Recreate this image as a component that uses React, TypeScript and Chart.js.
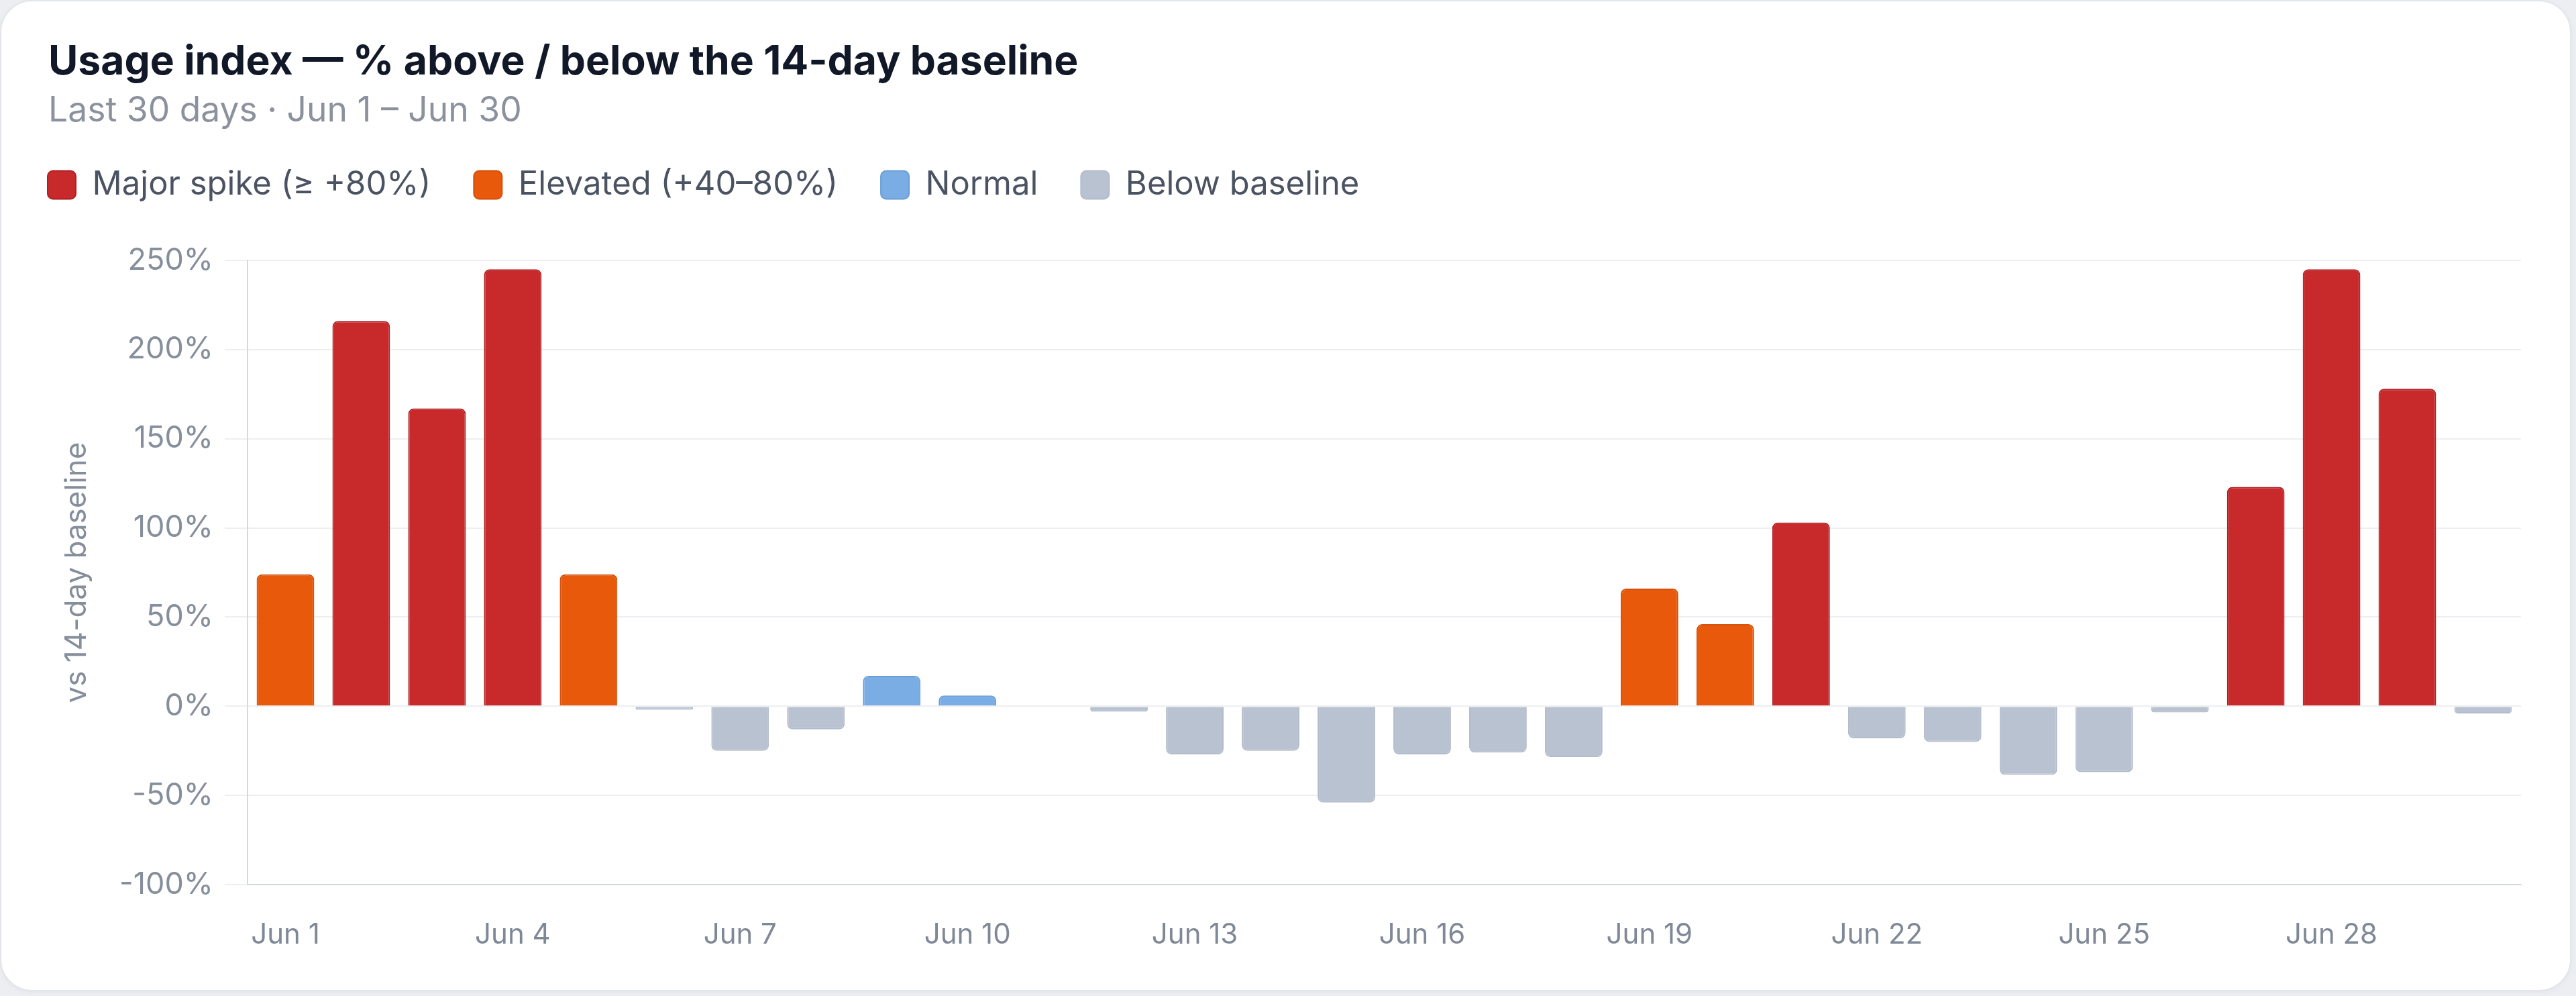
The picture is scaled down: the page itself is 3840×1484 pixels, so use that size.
import React, { useEffect, useRef } from "react";
import { Chart, registerables } from "chart.js";

Chart.register(...registerables);

// ---- data ----
const days: string[] = [
  "Jun 1", "Jun 2", "Jun 3", "Jun 4", "Jun 5", "Jun 6", "Jun 7", "Jun 8", "Jun 9", "Jun 10",
  "Jun 11", "Jun 12", "Jun 13", "Jun 14", "Jun 15", "Jun 16", "Jun 17", "Jun 18", "Jun 19", "Jun 20",
  "Jun 21", "Jun 22", "Jun 23", "Jun 24", "Jun 25", "Jun 26", "Jun 27", "Jun 28", "Jun 29", "Jun 30",
];
const pctVsBaseline: number[] = [
  74, 216, 167, 245, 74, -2, -25, -13, 17, 6,
  0, -3, -27, -25, -54, -27, -26, -28.5, 66, 46,
  103, -18, -20, -38.5, -37, -3.5, 123, 245, 178, -4,
];
const seriesNames: string[] = ["Major spike (≥ +80%)", "Elevated (+40–80%)", "Normal", "Below baseline"];
const seriesFill: string[] = ["#c8292b", "#e8590c", "#7aade3", "#b9c2d0"];
const seriesEdge: string[] = ["#ae1f22", "#d4500b", "#6a9ed6", "#b3bccb"];
const yTickValues: number[] = [-100, -50, 0, 50, 100, 150, 200, 250];
const xLabelEvery = 3;

const TITLE = "Usage index — % above / below the 14-day baseline";
const SUBTITLE = "Last 30 days · Jun 1 – Jun 30";
const Y_TITLE = "vs 14-day baseline";

const FONT = "Inter, 'Noto Sans', sans-serif";
const PAGE_BG = "#eceef1";

function bucket(v: number): number {
  if (v >= 80) return 0;
  if (v >= 40) return 1;
  if (v >= 0) return 2;
  return 3;
}

const CANVAS_W = 3829;
const CANVAS_H = 1473;
const LEGEND_PAD = 64;
const PAD_TOP = 185;
const AREA_TOP = 386;
const AREA_LEFT = 367;
const PAD_LEFT = 5;
const AREA_BOTTOM = 1316;

export default function App() {
  const ref = useRef<HTMLCanvasElement>(null);

  useEffect(() => {
    document.body.style.margin = "0";
    document.body.style.background = PAGE_BG;
    const canvas = ref.current;
    if (!canvas) return;

    const datasets = seriesNames.map((name, k) => ({
      label: name,
      data: pctVsBaseline.map((v) => (bucket(v) === k ? v : null)),
      backgroundColor: seriesFill[k],
      borderColor: seriesEdge[k],
      borderWidth: 2,
      borderRadius: 8,
      grouped: false,
      categoryPercentage: 0.8,
      barPercentage: 0.95,
    }));

    const legendSpacer = {
      id: "legendSpacer",
      beforeInit(chart: any) {
        const lg = chart.legend;
        if (!lg) return;
        const orig = lg.fit;
        lg.fit = function () {
          orig.call(lg);
          lg.height = AREA_TOP - PAD_TOP;
        };
      },
    };

    const chart = new Chart(canvas, {
      type: "bar",
      data: { labels: days, datasets: datasets as any },
      plugins: [legendSpacer],
      options: {
        responsive: false,
        animation: false,
        devicePixelRatio: 1,
        layout: { padding: { left: PAD_LEFT, top: PAD_TOP, right: 73, bottom: 0 } },
        plugins: {
          legend: {
            display: true,
            position: "top",
            align: "start",
            labels: {
              boxWidth: 42,
              boxHeight: 42,
              padding: LEGEND_PAD,
              color: "#4b5362",
              font: { family: FONT, size: 49 },
              useBorderRadius: true,
              borderRadius: 8,
            },
          },
          tooltip: { enabled: false },
        },
        scales: {
          x: {
            grid: { display: false, drawTicks: false },
            border: { display: true, color: "#d5d9df", width: 2 },
            ticks: {
              autoSkip: false,
              maxRotation: 0,
              minRotation: 0,
              padding: 50,
              color: "#7f8896",
              font: { family: FONT, size: 42 },
              callback: (_v: any, i: number) => (i % xLabelEvery === 0 ? days[i] : ""),
            },
            afterFit: (s: any) => {
              s.height = CANVAS_H - AREA_BOTTOM;
            },
          },
          y: {
            min: yTickValues[0],
            max: yTickValues[yTickValues.length - 1],
            afterBuildTicks: (s: any) => {
              s.ticks = yTickValues.map((v) => ({ value: v }));
            },
            ticks: {
              padding: 17,
              color: "#858e9b",
              font: { family: FONT, size: 45 },
              callback: (v: any) => `${v}%`,
            },
            grid: { color: "#eceef1", lineWidth: 2, tickLength: 34, drawTicks: true },
            border: { display: true, color: "#d5d9df", width: 2 },
            title: {
              display: true,
              text: Y_TITLE,
              color: "#858e9b",
              font: { family: FONT, size: 44 },
              padding: { top: 81, bottom: 0 },
            },
            afterFit: (s: any) => {
              s.width = AREA_LEFT - PAD_LEFT;
            },
          },
        },
      } as any,
    });
    return () => chart.destroy();
  }, []);

  return (
    <div style={{ position: "relative", width: 3840, height: 1484, background: PAGE_BG, overflow: "hidden" }}>
      <div
        style={{
          position: "absolute",
          left: 0,
          top: 0,
          width: 3833,
          height: 1477,
          boxSizing: "border-box",
          background: "#ffffff",
          border: "2px solid #e2e5ea",
          borderRadius: 48,
          overflow: "hidden",
          boxShadow: "0 2px 8px rgba(0,0,0,0.04)",
        }}
      >
        <canvas
          ref={ref}
          width={CANVAS_W}
          height={CANVAS_H}
          style={{ position: "absolute", left: 0, top: 0, width: CANVAS_W, height: CANVAS_H }}
        />
        <div
          style={{
            position: "absolute",
            left: 70,
            top: 57,
            fontFamily: FONT,
            fontWeight: 700,
            fontSize: 60.6,
            lineHeight: "60px",
            color: "#111827",
            whiteSpace: "nowrap",
          }}
        >
          {TITLE}
        </div>
        <div
          style={{
            position: "absolute",
            left: 70,
            top: 135,
            fontFamily: FONT,
            fontWeight: 400,
            fontSize: 51.6,
            lineHeight: "51px",
            color: "#8b929d",
            whiteSpace: "nowrap",
          }}
        >
          {SUBTITLE}
        </div>
      </div>
    </div>
  );
}
